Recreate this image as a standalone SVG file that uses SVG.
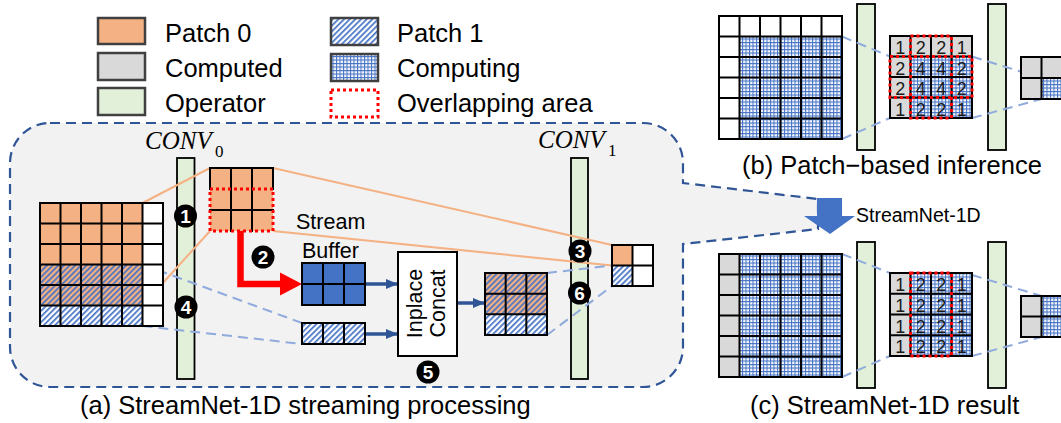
<svg xmlns="http://www.w3.org/2000/svg" width="1061" height="423" viewBox="0 0 1061 423">
<defs>
<pattern id="hatch" patternUnits="userSpaceOnUse" width="4" height="4" patternTransform="rotate(45)"><rect width="1.7" height="4" fill="#4472C4"/></pattern>
<pattern id="comp" patternUnits="userSpaceOnUse" width="3.5" height="3.5"><rect width="3.5" height="3.5" fill="#F4F6FA"/><path d="M0 0.5H3.5M0.5 0V3.5" stroke="#4472C4" stroke-width="1"/></pattern>
<marker id="ah" viewBox="0 0 12 10" refX="12" refY="5" markerWidth="12" markerHeight="10" markerUnits="userSpaceOnUse" orient="auto"><path d="M0 0L12 5L0 10Z" fill="#2F5597"/></marker>
<style>
.t{font-family:"Liberation Sans",Arial,sans-serif;fill:#000}
.leg{font-size:25.5px}
.cap{font-size:25.5px}
.num{font-size:18px;text-anchor:middle;fill:#1a1a1a}
.conv{font-family:"Liberation Serif","Times New Roman",serif;font-style:italic;font-size:25px}
.sub{font-family:"Liberation Serif","Times New Roman",serif;font-size:17px}
.grid{fill:none;stroke:#000;stroke-width:2;stroke-linecap:square}
.lbox{stroke:#404040;stroke-width:2.5}
.ovl{fill:none;stroke:#FF0000;stroke-width:3;stroke-dasharray:3 3}
.bar{fill:#E2F0D9;stroke:#000;stroke-width:1.8}
.or{stroke:#F4B183;stroke-width:2;fill:none}
.bd{stroke:#8FAADC;stroke-width:2;stroke-dasharray:10 6;fill:none}
.ba{stroke:#2F5597;stroke-width:3.5;fill:none;marker-end:url(#ah)}
.circ{fill:#000}
.cn{font-family:"Liberation Sans",Arial,sans-serif;font-size:19px;font-weight:bold;fill:#fff;text-anchor:middle}
</style>
</defs>

<g id="panel-a-frame">
<path d="M50 123H643A40 40 0 0 1 683 163V183L818 199L818 229L683 244V347A40 40 0 0 1 643 387H50A40 40 0 0 1 10 347V163A40 40 0 0 1 50 123Z" fill="#F2F2F2" stroke="#2F5597" stroke-width="2.2" stroke-dasharray="10 6"/>
</g>

<g id="legend">
<g id="leg-patch0"><rect x="98" y="18" width="47" height="26" fill="#F4B183" class="lbox"/><text x="165" y="42" class="t leg">Patch 0</text></g>
<g id="leg-computed"><rect x="98" y="53" width="47" height="27" fill="#D9D9D9" class="lbox"/><text x="165" y="77" class="t leg">Computed</text></g>
<g id="leg-operator"><rect x="98" y="88" width="47" height="27" fill="#E2F0D9" class="lbox"/><text x="165" y="112" class="t leg">Operator</text></g>
<g id="leg-patch1"><rect x="331" y="18" width="47" height="27" fill="#fff"/><rect x="331" y="18" width="47" height="27" fill="url(#hatch)" class="lbox"/><text x="397" y="42" class="t leg">Patch 1</text></g>
<g id="leg-computing"><rect x="331" y="54" width="47" height="27" fill="url(#comp)" class="lbox"/><text x="397" y="77" class="t leg">Computing</text></g>
<g id="leg-overlap"><rect x="331" y="90" width="47" height="27" class="ovl"/><text x="397" y="112" class="t leg">Overlapping area</text></g>
</g>

<g id="operators">
<rect id="conv0-bar" x="177" y="158" width="17.5" height="221" class="bar"/>
<rect id="conv1-bar" x="571" y="158" width="17" height="221" class="bar"/>
<rect id="b-op1" x="857" y="4" width="18" height="146" class="bar"/>
<rect id="b-op2" x="988" y="4" width="18" height="146" class="bar"/>
<rect id="c-op1" x="857" y="242" width="18" height="146" class="bar"/>
<rect id="c-op2" x="988" y="242" width="18" height="146" class="bar"/>
</g>

<g id="connectors">
<path class="or" d="M142.5 203L210 168"/>
<path class="or" d="M142.5 305.5L210 231"/>
<path class="or" d="M273 168L612 245"/>
<path class="or" d="M273 231L612 265.5"/>
<path class="bd" d="M142.5 264.5L302 323"/>
<path class="bd" d="M142.5 326L302 344"/>
<path class="bd" d="M547 273L612 265.5"/>
<path class="bd" d="M547 335L612 286"/>
<path class="ba" d="M365 284H398"/>
<path class="ba" d="M365 334H398"/>
<path class="ba" d="M457 303H485"/>
<path d="M240.5 231V284H282" stroke="#FF0000" stroke-width="6.5" fill="none"/>
<path d="M280 272.5L302 284L280 295.5Z" fill="#FF0000"/>
<path class="bd" d="M842 36.5L890 56.5"/>
<path class="bd" d="M842 139L890 118"/>
<path class="bd" d="M972 56.5L1041.5 78"/>
<path class="bd" d="M972 118L1041.5 99"/>
<path class="bd" d="M842 254L890 273"/>
<path class="bd" d="M842 377L890 356"/>
<path class="bd" d="M972 275L1041.5 296"/>
<path class="bd" d="M972 356L1041.5 337"/>
</g>

<g id="input-fmap">
<rect x="40" y="203" width="102.5" height="102.5" fill="#F4B183"/>
<rect x="40" y="305.5" width="102.5" height="20.5" fill="#fff"/>
<rect x="142.5" y="203" width="20.5" height="123" fill="#fff"/>
<rect x="40" y="264.5" width="102.5" height="61.5" fill="url(#hatch)"/>
<path class="grid" d="M40 203H163M40 223.5H163M40 244H163M40 264.5H163M40 285H163M40 305.5H163M40 326H163M40 203V326M60.5 203V326M81 203V326M101.5 203V326M122 203V326M142.5 203V326M163 203V326"/>
</g>

<g id="patch0-out">
<rect x="210" y="168" width="63" height="63" fill="#F4B183"/>
<path class="grid" d="M210 168H273M210 168V189M273 168V189M231 168V231M252 168V231M210 210H273"/>
<rect x="210" y="189" width="63" height="42" class="ovl"/>
</g>

<g id="stream-buffer">
<rect x="302" y="263" width="63" height="42" fill="#4472C4"/>
<path class="grid" d="M302 263H365M302 284H365M302 305H365M302 263V305M323 263V305M344 263V305M365 263V305"/>
<text x="296" y="228.5" class="t" font-size="21.5">Stream</text>
<text x="302" y="258" class="t" font-size="21.5">Buffer</text>
</g>

<g id="patch1-row">
<rect x="302" y="323" width="63" height="21" fill="#fff"/>
<rect x="302" y="323" width="63" height="21" fill="url(#hatch)"/>
<path class="grid" d="M302 323H365M302 344H365M302 323V344M323 323V344M344 323V344M365 323V344"/>
</g>

<g id="inplace-concat">
<rect x="398" y="252" width="59" height="104" fill="#fff" stroke="#000" stroke-width="2"/>
<text transform="translate(422 303.5) rotate(-90)" class="t" font-size="21.5" text-anchor="middle">Inplace</text>
<text transform="translate(445 303.5) rotate(-90)" class="t" font-size="21.5" text-anchor="middle">Concat</text>
</g>

<g id="concat-fmap">
<rect x="485" y="273" width="62" height="41.33" fill="#F4B183"/>
<rect x="485" y="314.33" width="62" height="20.67" fill="#fff"/>
<rect x="485" y="273" width="62" height="62" fill="url(#hatch)"/>
<path class="grid" d="M485 273H547M485 293.67H547M485 314.33H547M485 335H547M485 273V335M505.67 273V335M526.33 273V335M547 273V335"/>
</g>

<g id="conv1-out">
<rect x="612" y="245" width="41" height="41" fill="#fff"/>
<rect x="612" y="245" width="20.5" height="20.5" fill="#F4B183"/>
<rect x="612" y="265.5" width="20.5" height="20.5" fill="url(#hatch)"/>
<path class="grid" d="M612 245H653M612 265.5H653M612 286H653M612 245V286M632.5 245V286M653 245V286"/>
</g>

<g id="conv-labels">
<text x="145" y="149" class="conv">CONV</text><text x="215" y="157" class="sub">0</text>
<text x="538" y="148" class="conv">CONV</text><text x="608" y="156" class="sub">1</text>
</g>

<g id="steps">
<g id="step1"><circle cx="185.5" cy="216" r="11.5" class="circ"/><text x="185.5" y="223" class="cn">1</text></g>
<g id="step2"><circle cx="263" cy="257" r="11.5" class="circ"/><text x="263" y="264" class="cn">2</text></g>
<g id="step3"><circle cx="580" cy="251" r="11.5" class="circ"/><text x="580" y="258" class="cn">3</text></g>
<g id="step4"><circle cx="186" cy="307" r="11.5" class="circ"/><text x="186" y="314" class="cn">4</text></g>
<g id="step5"><circle cx="428" cy="372" r="11.5" class="circ"/><text x="428" y="379" class="cn">5</text></g>
<g id="step6"><circle cx="579.5" cy="293" r="11.5" class="circ"/><text x="579.5" y="300" class="cn">6</text></g>
</g>

<g id="panel-b">
<g id="b-input">
<rect x="719" y="16" width="123" height="123" fill="#fff"/>
<rect x="739.5" y="36.5" width="102.5" height="102.5" fill="url(#comp)"/>
<path class="grid" d="M719 16H842M719 36.5H842M719 57H842M719 77.5H842M719 98H842M719 118.5H842M719 139H842M719 16V139M739.5 16V139M760 16V139M780.5 16V139M801 16V139M821.5 16V139M842 16V139"/>
</g>
<g id="b-mid">
<rect x="890" y="36" width="82" height="82" fill="#D9D9D9"/>
<rect x="910.5" y="56.5" width="61.5" height="61.5" fill="url(#comp)"/>
<path class="grid" d="M890 36H972M890 56.5H972M890 77H972M890 97.5H972M890 118H972M890 36V118M910.5 36V118M931 36V118M951.5 36V118M972 36V118"/>
<text class="t num" x="900.25" y="54">1</text><text class="t num" x="920.75" y="54">2</text><text class="t num" x="941.25" y="54">2</text><text class="t num" x="961.75" y="54">1</text>
<text class="t num" x="900.25" y="74.5">2</text><text class="t num" x="920.75" y="74.5">4</text><text class="t num" x="941.25" y="74.5">4</text><text class="t num" x="961.75" y="74.5">2</text>
<text class="t num" x="900.25" y="95">2</text><text class="t num" x="920.75" y="95">4</text><text class="t num" x="941.25" y="95">4</text><text class="t num" x="961.75" y="95">2</text>
<text class="t num" x="900.25" y="115.5">1</text><text class="t num" x="920.75" y="115.5">2</text><text class="t num" x="941.25" y="115.5">2</text><text class="t num" x="961.75" y="115.5">1</text>
<rect x="910.5" y="36" width="41" height="82" class="ovl"/>
<rect x="890" y="56.5" width="82" height="41" class="ovl"/>
</g>
<g id="b-out">
<rect x="1021" y="57" width="41" height="42" fill="#D9D9D9"/>
<rect x="1041.5" y="78" width="20.5" height="21" fill="url(#comp)"/>
<path class="grid" d="M1021 57H1062M1021 78H1062M1021 99H1062M1021 57V99M1041.5 57V99M1062 57V99"/>
</g>
<text x="742" y="174" class="t cap">(b) Patch−based inference</text>
</g>

<g id="panel-c">
<g id="c-input">
<rect x="719" y="254" width="20.5" height="123" fill="#D9D9D9"/>
<rect x="739.5" y="254" width="102.5" height="123" fill="url(#comp)"/>
<path class="grid" d="M719 254H842M719 274.5H842M719 295H842M719 315.5H842M719 336H842M719 356.5H842M719 377H842M719 254V377M739.5 254V377M760 254V377M780.5 254V377M801 254V377M821.5 254V377M842 254V377"/>
</g>
<g id="c-mid">
<rect x="890" y="273" width="20.5" height="83" fill="#D9D9D9"/>
<rect x="910.5" y="273" width="61.5" height="83" fill="url(#comp)"/>
<path class="grid" d="M890 273H972M890 293.75H972M890 314.5H972M890 335.25H972M890 356H972M890 273V356M910.5 273V356M931 273V356M951.5 273V356M972 273V356"/>
<text class="t num" x="900.25" y="291">1</text><text class="t num" x="920.75" y="291">2</text><text class="t num" x="941.25" y="291">2</text><text class="t num" x="961.75" y="291">1</text>
<text class="t num" x="900.25" y="311.75">1</text><text class="t num" x="920.75" y="311.75">2</text><text class="t num" x="941.25" y="311.75">2</text><text class="t num" x="961.75" y="311.75">1</text>
<text class="t num" x="900.25" y="332.5">1</text><text class="t num" x="920.75" y="332.5">2</text><text class="t num" x="941.25" y="332.5">2</text><text class="t num" x="961.75" y="332.5">1</text>
<text class="t num" x="900.25" y="353.25">1</text><text class="t num" x="920.75" y="353.25">2</text><text class="t num" x="941.25" y="353.25">2</text><text class="t num" x="961.75" y="353.25">1</text>
<rect x="910.5" y="273" width="41" height="83" class="ovl"/>
</g>
<g id="c-out">
<rect x="1021" y="296" width="20.5" height="41" fill="#D9D9D9"/>
<rect x="1041.5" y="296" width="20.5" height="41" fill="url(#comp)"/>
<path class="grid" d="M1021 296H1062M1021 316.5H1062M1021 337H1062M1021 296V337M1041.5 296V337M1062 296V337"/>
</g>
<text x="750" y="414" class="t cap">(c) StreamNet-1D result</text>
</g>

<g id="streamnet-arrow">
<path d="M817 198H842V216H855L830 234L804 216H817Z" fill="#4472C4"/>
<text x="856" y="222" class="t" font-size="19.5">StreamNet-1D</text>
</g>

<text id="caption-a" x="80" y="414" class="t cap">(a) StreamNet-1D streaming processing</text>
</svg>
